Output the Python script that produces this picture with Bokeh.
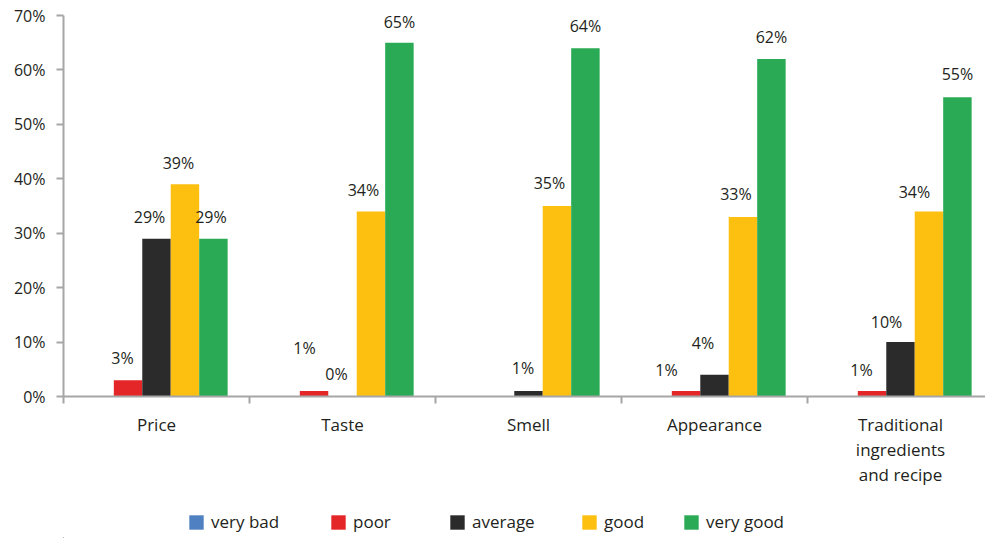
from bokeh.plotting import figure
from bokeh.layouts import column
from bokeh.models import Range1d, FixedTicker, ColumnDataSource, Legend, LegendItem
from bokeh.core.properties import value
from bokeh.embed import file_html
from bokeh.resources import INLINE

# ---------------- data ----------------
categories = ["Price", "Taste", "Smell", "Appearance", "Traditional\ningredients\nand recipe"]
series_names = ["very bad", "poor", "average", "good", "very good"]
very_bad = [None, None, None, None, None]
poor = [3, 1, None, 1, 1]
average = [29, 0, 1, 4, 10]
good = [39, 34, 35, 33, 34]
very_good = [29, 65, 64, 62, 55]
y_ticks = [0, 10, 20, 30, 40, 50, 60, 70]
y_tick_labels = ["0%", "10%", "20%", "30%", "40%", "50%", "60%", "70%"]

# ---------------- style ----------------
colors = ["#4f81c2", "#e52629", "#2b2b2b", "#fdc010", "#2aaa55"]
FONT = "Open Sans"
TXT = "#231f20"
AXIS = "#a6a6a6"
# label nudges in pixels (dx, distance above bar top) per series / category
nudges = [
    [(0, 22)] * 5,
    [(-5.5, 22), (-9.5, 43), (0, 22), (-19.5, 21), (-10.5, 21)],
    [(-7, 22), (-6, 23), (-5.5, 23), (-11.5, 32), (-14, 20)],
    [(-6.5, 21), (-7.5, 21), (-7.5, 23), (-7, 23), (-14.5, 19)],
    [(-2.5, 22), (0, 21), (0, 22), (0, 22), (0, 23)],
]
FRAME_LEFT = 63
legend_x = [187, 329, 448, 580, 682]   # left edge of each legend entry (page pixels)

series_values = [very_bad, poor, average, good, very_good]
n_cat = len(categories)
centers = [i + 0.5 for i in range(n_cat)]
bw = 0.153

p = figure(width=985, height=498, output_backend="svg", toolbar_location=None,
           x_range=Range1d(0, 922 / 186), y_range=Range1d(0, 70),
           min_border_left=FRAME_LEFT, min_border_right=0, min_border_top=15,
           min_border_bottom=102)
p.outline_line_color = None
p.xgrid.visible = False
p.ygrid.visible = False
p.background_fill_color = "white"
p.border_fill_color = "white"

for si, (name, vals) in enumerate(zip(series_names, series_values)):
    xs = [c + (si - 2) * bw for c in centers]
    tops = [float("nan") if v is None else v for v in vals]
    src = ColumnDataSource(dict(x=xs, top=tops))
    p.vbar(x="x", top="top", bottom=0, width=bw, source=src,
           fill_color=colors[si], line_color=None)
    lx, ly, lt, dx, dy = [], [], [], [], []
    for ci, v in enumerate(vals):
        if v is None:
            continue
        lx.append(xs[ci]); ly.append(v); lt.append(f"{v}%")
        dx.append(nudges[si][ci][0]); dy.append(-nudges[si][ci][1])
    if lx:
        lsrc = ColumnDataSource(dict(x=lx, y=ly, t=lt, dx=dx, dy=dy))
        p.text(x="x", y="y", text="t", x_offset="dx", y_offset="dy", source=lsrc,
               text_align="center", text_baseline="middle",
               text_font=value(FONT), text_font_size="16px", text_color=TXT)

# x axis
xa = p.xaxis[0]
xa.ticker = FixedTicker(ticks=centers, minor_ticks=[float(i) for i in range(n_cat)])
xa.major_label_overrides = {c: lab for c, lab in zip(centers, categories)}
xa.major_tick_out = 0
xa.major_tick_in = 0
xa.minor_tick_out = 7
xa.minor_tick_in = 0
xa.minor_tick_line_color = AXIS
xa.minor_tick_line_width = 2
xa.axis_line_color = AXIS
xa.axis_line_width = 2
xa.major_label_text_font = FONT
xa.major_label_text_font_size = "17px"
xa.major_label_text_color = TXT
xa.major_label_text_line_height = 1.09
xa.major_label_standoff = 9

# y axis
ya = p.yaxis[0]
ya.ticker = FixedTicker(ticks=y_ticks)
ya.major_label_overrides = {t: lab for t, lab in zip(y_ticks, y_tick_labels)}
ya.minor_tick_line_color = None
ya.major_tick_out = 7
ya.major_tick_in = 0
ya.major_tick_line_color = AXIS
ya.major_tick_line_width = 2
ya.axis_line_color = AXIS
ya.axis_line_width = 2
ya.major_label_text_font = FONT
ya.major_label_text_font_size = "16px"
ya.major_label_text_color = TXT
ya.major_label_standoff = 11

# ---------------- legend strip ----------------
lf = figure(width=985, height=40, output_backend="svg", toolbar_location=None,
            x_range=Range1d(0, 985), y_range=Range1d(0, 40),
            x_axis_location=None, y_axis_location=None,
            min_border_left=0, min_border_right=0, min_border_top=0, min_border_bottom=0)
lf.outline_line_color = None
lf.xgrid.visible = False
lf.ygrid.visible = False
lf.background_fill_color = "white"
lf.border_fill_color = "white"
for si, name in enumerate(series_names):
    # swatch renderer kept outside the visible range; only its legend glyph shows
    r = lf.vbar(x=[-1000], top=[1], bottom=0, width=1, fill_color=colors[si], line_color=None)
    leg = Legend(items=[LegendItem(label=name, renderers=[r])],
                 location=(legend_x[si] - FRAME_LEFT, 5), orientation="horizontal",
                 border_line_color=None, background_fill_alpha=0,
                 padding=0, margin=0, glyph_width=18, glyph_height=18,
                 label_standoff=6, label_text_font=FONT,
                 label_text_font_size="17px", label_text_color=TXT)
    lf.add_layout(leg)

layout = column(p, lf, spacing=0)
open("out.html", "w").write(file_html(layout, INLINE))
